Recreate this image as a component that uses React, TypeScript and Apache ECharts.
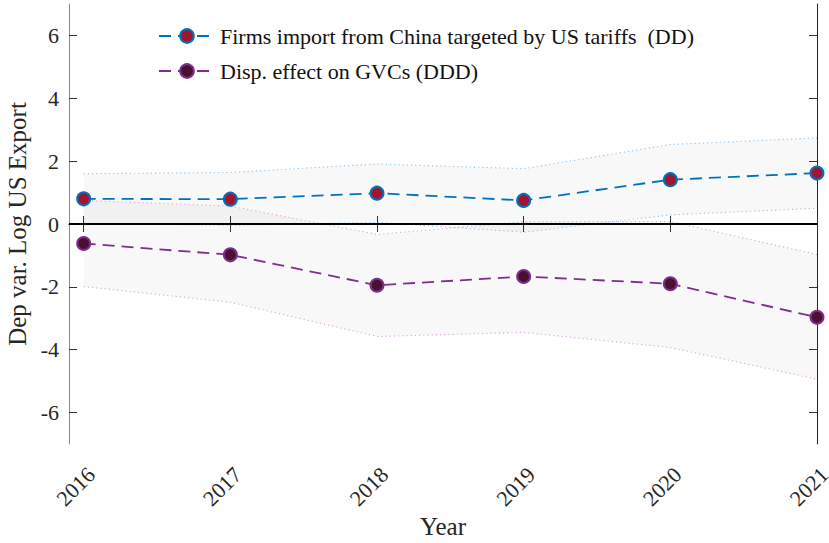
import React, { useEffect, useRef } from 'react'
import * as echarts from 'echarts'

// years on the x axis
const YEARS = [2016, 2017, 2018, 2019, 2020, 2021]

// DD: firms importing from China targeted by US tariffs
const DD = [0.8, 0.79, 0.98, 0.75, 1.41, 1.62]
const DD_LO = [0.02, -0.04, 0.05, -0.26, 0.29, 0.5]
const DD_HI = [1.6, 1.64, 1.91, 1.76, 2.53, 2.74]

// DDD: displacement effect on GVCs
const DDD = [-0.62, -0.98, -1.95, -1.67, -1.9, -2.97]
const DDD_LO = [-1.99, -2.49, -3.58, -3.45, -3.93, -4.94]
const DDD_HI = [0.75, 0.57, -0.33, 0.07, 0.08, -0.97]

const Y_TICKS = [-6, -4, -2, 0, 2, 4, 6]

const DD_NAME = 'Firms import from China targeted by US tariffs  (DD)'
const DDD_NAME = 'Disp. effect on GVCs (DDD)'

const FONT = 'Liberation Serif'
const X_MIN = 2015.9
const X_MAX = 2021

const bandSeries = (lo: number[], hi: number[], z: number) => ({
  type: 'custom',
  silent: true,
  z,
  data: [[YEARS[0], lo[0]]],
  renderItem: (_params: any, api: any) => {
    const top = YEARS.map((y, i) => api.coord([y, hi[i]]))
    const bottom = YEARS.map((y, i) => api.coord([y, lo[i]])).reverse()
    return {
      type: 'polygon',
      shape: { points: top.concat(bottom) },
      style: { fill: 'rgba(0,0,0,0.026)' },
    }
  },
})

const edgeSeries = (vals: number[], color: string, z: number) => ({
  type: 'line',
  silent: true,
  z,
  showSymbol: false,
  symbol: 'none',
  lineStyle: { color, width: 1.1, type: [1.2, 3] },
  data: YEARS.map((y, i) => [y, vals[i]]),
})

const App = () => {
  const chartRef = useRef<HTMLDivElement>(null)

  useEffect(() => {
    if (!chartRef.current) return
    const chart = echarts.init(chartRef.current, null, { renderer: 'svg' })

    const option = {
      animation: false,
      textStyle: { fontFamily: FONT },
      grid: [
        { left: 69, right: 12, top: 4, bottom: 99, containLabel: false, outerBoundsMode: 'none' },
        // same scale, shifted right: carries the rotated year labels
        { left: 76.5, right: 4.5, top: 4, bottom: 99, containLabel: false, outerBoundsMode: 'none' },
      ],
      legend: {
        orient: 'vertical',
        left: 158,
        top: 25,
        padding: 0,
        itemWidth: 56,
        itemHeight: 17,
        itemGap: 13,
        textStyle: { fontFamily: FONT, fontSize: 22, color: '#111' },
        data: [
          { name: DD_NAME, itemStyle: { color: '#A2142F', borderColor: '#0072BD', borderWidth: 2 } },
          { name: DDD_NAME, itemStyle: { color: '#4A1030', borderColor: '#7E2F8E', borderWidth: 2 } },
        ],
      },
      xAxis: [
        {
          type: 'value',
          gridIndex: 0,
          position: 'bottom',
          min: X_MIN,
          max: X_MAX,
          name: 'Year',
          nameLocation: 'middle',
          nameGap: 70,
          nameTextStyle: { fontFamily: FONT, fontSize: 25, color: '#262626' },
          axisLine: { show: true, lineStyle: { color: '#8a8a8a', width: 1 } },
          axisTick: { show: true, inside: true, length: 8, customValues: YEARS, lineStyle: { color: '#333' } },
          axisLabel: { show: false },
          splitLine: { show: false },
        },
        {
          type: 'value',
          gridIndex: 0,
          position: 'top',
          min: X_MIN,
          max: X_MAX,
          axisLine: { show: true, lineStyle: { color: '#262626', width: 1 } },
          axisTick: { show: true, inside: true, length: 8, customValues: YEARS, lineStyle: { color: '#333' } },
          axisLabel: { show: false },
          splitLine: { show: false },
        },
        {
          type: 'value',
          gridIndex: 1,
          position: 'bottom',
          min: X_MIN,
          max: X_MAX,
          axisLine: { show: false },
          axisTick: { show: false },
          axisLabel: {
            show: true,
            rotate: 45,
            margin: 27,
            customValues: YEARS,
            fontFamily: FONT,
            fontSize: 22,
            color: '#262626',
            formatter: (v: number) => String(v),
          },
          splitLine: { show: false },
        },
      ],
      yAxis: [
        {
          type: 'value',
          gridIndex: 0,
          position: 'left',
          min: -7,
          max: 7,
          name: 'Dep var. Log US Export',
          nameLocation: 'middle',
          nameGap: 34,
          nameTextStyle: { fontFamily: FONT, fontSize: 25, color: '#262626' },
          axisLine: { show: true, lineStyle: { color: '#8a8a8a', width: 1 } },
          axisTick: { show: true, inside: true, length: 8, customValues: Y_TICKS, lineStyle: { color: '#333' } },
          axisLabel: {
            show: true,
            margin: 10,
            customValues: Y_TICKS,
            fontFamily: FONT,
            fontSize: 22,
            color: '#262626',
            formatter: (v: number) => String(v),
          },
          splitLine: { show: false },
        },
        {
          type: 'value',
          gridIndex: 0,
          position: 'right',
          min: -7,
          max: 7,
          axisLine: { show: true, lineStyle: { color: '#262626', width: 1 } },
          axisTick: { show: true, inside: true, length: 8, customValues: Y_TICKS, lineStyle: { color: '#333' } },
          axisLabel: { show: false },
          splitLine: { show: false },
        },
        {
          type: 'value',
          gridIndex: 1,
          show: false,
          min: -7,
          max: 7,
        },
      ],
      series: [
        bandSeries(DD_LO, DD_HI, 1),
        bandSeries(DDD_LO, DDD_HI, 1),
        edgeSeries(DD_HI, '#8cc3ea', 2),
        edgeSeries(DD_LO, '#8cc3ea', 2),
        edgeSeries(DDD_HI, '#d8a4dc', 2),
        {
          ...edgeSeries(DDD_LO, '#d8a4dc', 2),
          markLine: {
            silent: true,
            symbol: ['none', 'none'],
            label: { show: false },
            lineStyle: { color: '#000', width: 1.8, type: 'solid' },
            data: [{ yAxis: 0 }],
            z: 3,
          },
        },
        {
          name: DD_NAME,
          type: 'line',
          z: 4,
          symbol: 'circle',
          symbolSize: 13,
          itemStyle: { color: '#A2142F', borderColor: '#0072BD', borderWidth: 2 },
          lineStyle: { color: '#0072BD', width: 1.8, type: [12, 7] },
          data: YEARS.map((y, i) => [y, DD[i]]),
        },
        {
          name: DDD_NAME,
          type: 'line',
          z: 4,
          symbol: 'circle',
          symbolSize: 13,
          itemStyle: { color: '#4A1030', borderColor: '#7E2F8E', borderWidth: 2 },
          lineStyle: { color: '#7E2F8E', width: 1.8, type: [12, 7] },
          data: YEARS.map((y, i) => [y, DDD[i]]),
        },
      ],
    }

    chart.setOption(option)

    return () => {
      chart.dispose()
    }
  }, [])

  return (
    <div
      ref={chartRef}
      style={{ position: 'fixed', left: 0, top: 0, width: 829, height: 543, background: '#fff' }}
    />
  )
}

export default App
